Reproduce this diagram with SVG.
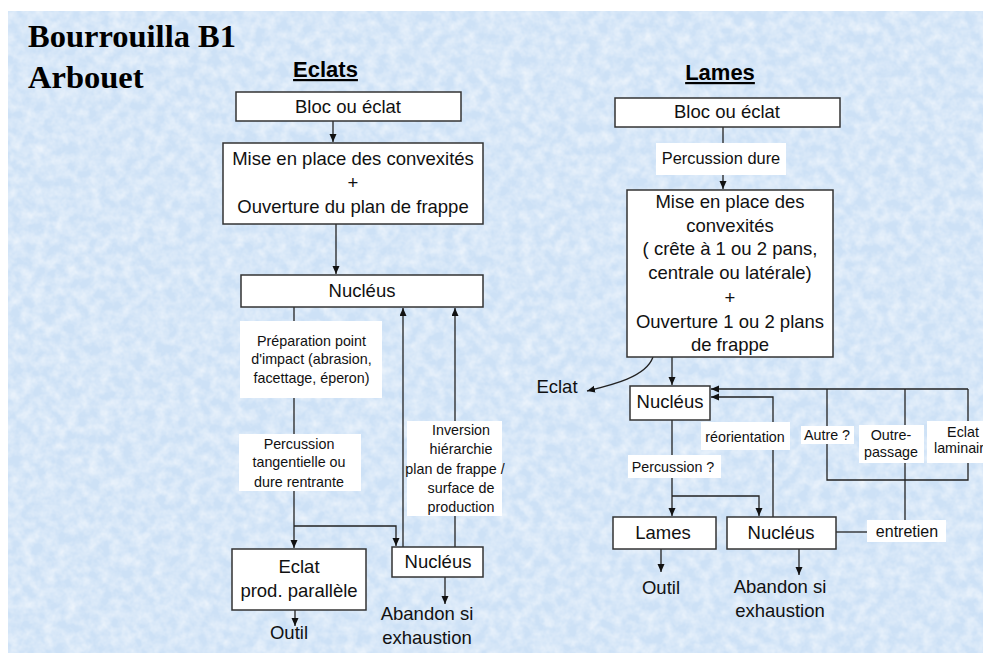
<svg xmlns="http://www.w3.org/2000/svg" width="983" height="653" viewBox="0 0 983 653">
<style>
.box{fill:#fff;stroke:#333;stroke-width:1.5}
.lbl{fill:#fff;stroke:none}
.ln{fill:none;stroke:#222;stroke-width:1.3}
.t{font-family:"Liberation Sans",Arial,sans-serif;fill:#111;text-anchor:middle}
.big{font-size:18.5px}
.sm{font-size:14.3px}
.hd{font-family:"Liberation Sans",Arial,sans-serif;font-weight:bold;font-size:22px;fill:#000;text-anchor:middle;text-decoration:underline}
.title{font-family:"Liberation Serif","Times New Roman",serif;font-weight:bold;font-size:32.5px;fill:#000}
</style>
<defs>
<marker id="ar" markerUnits="userSpaceOnUse" markerWidth="9" markerHeight="8" refX="8" refY="3.5" orient="auto">
<path d="M0,0 L8,3.5 L0,7 z" fill="#111"/>
</marker>
<filter id="tex" x="0" y="0" width="100%" height="100%">
<feTurbulence type="fractalNoise" baseFrequency="0.09" numOctaves="3" seed="7"/>
<feColorMatrix type="matrix" values="0 0 0 0 1  0 0 0 0 1  0 0 0 0 1  1.0 0 0 0 -0.3"/>
</filter>
</defs>
<rect x="0" y="0" width="983" height="653" fill="#fff"/>
<rect x="8" y="11" width="975" height="642" fill="#cde1f6"/>
<rect x="8" y="11" width="975" height="642" fill="#fff" filter="url(#tex)"/>

<text class="title" x="28" y="47">Bourrouilla B1</text>
<text class="title" x="28" y="88">Arbouet</text>
<text class="hd" x="325.5" y="77">Eclats</text>
<text class="hd" x="720" y="80">Lames</text>

<g id="connectors">
<line class="ln" x1="333" y1="121" x2="333" y2="142" marker-end="url(#ar)"/>
<line class="ln" x1="336" y1="224" x2="336" y2="274" marker-end="url(#ar)"/>
<line class="ln" x1="294" y1="307" x2="294" y2="548" marker-end="url(#ar)"/>
<path class="ln" d="M294,526 H396 V546" marker-end="url(#ar)"/>
<line class="ln" x1="403" y1="547" x2="403" y2="308" marker-end="url(#ar)"/>
<line class="ln" x1="455" y1="547" x2="455" y2="308" marker-end="url(#ar)"/>
<line class="ln" x1="295" y1="610" x2="295" y2="626" marker-end="url(#ar)"/>
<line class="ln" x1="445" y1="577" x2="445" y2="604" marker-end="url(#ar)"/>
<line class="ln" x1="723" y1="127" x2="723" y2="189" marker-end="url(#ar)"/>
<path class="ln" d="M653,357 C646,377 612,385 587,391" marker-end="url(#ar)"/>
<line class="ln" x1="672" y1="357" x2="672" y2="385" marker-end="url(#ar)"/>
<path class="ln" d="M968,389 H711" marker-end="url(#ar)"/>
<path class="ln" d="M968,389 V480 H827 V389"/>
<line class="ln" x1="905" y1="389" x2="905" y2="520"/>
<path class="ln" d="M773,517 V397 H711" marker-end="url(#ar)"/>
<line class="ln" x1="672" y1="420" x2="672" y2="516" marker-end="url(#ar)"/>
<path class="ln" d="M672,496 H759 V516" marker-end="url(#ar)"/>
<line class="ln" x1="836" y1="532" x2="867" y2="532"/>
<line class="ln" x1="661" y1="549" x2="661" y2="572" marker-end="url(#ar)"/>
<line class="ln" x1="799" y1="549" x2="799" y2="575" marker-end="url(#ar)"/>
</g>

<g id="l-bloc">
<rect class="box" x="236" y="92" width="225" height="29"/>
<text class="t big" x="348" y="113">Bloc ou éclat</text>
</g>
<g id="l-mise">
<rect class="box" x="223" y="143" width="260" height="81"/>
<text class="t big" x="353" y="165">Mise en place des convexités</text>
<text class="t big" x="353" y="189">+</text>
<text class="t big" x="353" y="213">Ouverture du plan de frappe</text>
</g>
<g id="l-nucleus">
<rect class="box" x="241" y="275" width="242" height="32"/>
<text class="t big" x="362" y="297">Nucléus</text>
</g>
<g id="l-prep">
<rect class="lbl" x="240" y="321" width="142" height="77"/>
<text class="t sm" x="311.5" y="346">Préparation point</text>
<text class="t sm" x="311.5" y="364">d'impact (abrasion,</text>
<text class="t sm" x="311.5" y="383">facettage, éperon)</text>
</g>
<g id="l-perc">
<rect class="lbl" x="239" y="434" width="122" height="57"/>
<text class="t sm" x="299" y="449">Percussion</text>
<text class="t sm" x="299" y="467">tangentielle ou</text>
<text class="t sm" x="299" y="487">dure rentrante</text>
</g>
<g id="l-inv">
<rect class="lbl" x="407" y="421" width="95" height="95"/>
<text class="t sm" x="461" y="435">Inversion</text>
<text class="t sm" x="461" y="454">hiérarchie</text>
<text class="t sm" x="455" y="474">plan de frappe /</text>
<text class="t sm" x="461" y="493">surface de</text>
<text class="t sm" x="461" y="512">production</text>
</g>
<g id="l-eclat">
<rect class="box" x="232" y="549" width="134" height="61"/>
<text class="t big" x="299" y="573">Eclat</text>
<text class="t big" x="299" y="597">prod. parallèle</text>
</g>
<g id="l-nucleus2">
<rect class="box" x="392" y="547" width="91" height="30"/>
<text class="t big" x="438" y="568">Nucléus</text>
</g>
<g id="l-outil"><text class="t big" x="289" y="639">Outil</text></g>
<g id="l-abandon">
<text class="t big" x="427" y="620">Abandon si</text>
<text class="t big" x="427" y="644">exhaustion</text>
</g>

<g id="r-bloc">
<rect class="box" x="615" y="98" width="225" height="29"/>
<text class="t big" x="727" y="118">Bloc ou éclat</text>
</g>
<g id="r-percdure">
<rect class="lbl" x="656" y="143" width="130" height="32"/>
<text class="t" style="font-size:16.4px" x="721" y="164">Percussion dure</text>
</g>
<g id="r-mise">
<rect class="box" x="627" y="190" width="206" height="167"/>
<text class="t big" x="730" y="208">Mise en place des</text>
<text class="t big" x="730" y="232">convexités</text>
<text class="t big" x="730" y="255">( crête à 1 ou 2 pans,</text>
<text class="t big" x="730" y="279">centrale ou latérale)</text>
<text class="t big" x="730" y="304">+</text>
<text class="t big" x="730" y="328">Ouverture 1 ou 2 plans</text>
<text class="t big" x="730" y="351">de frappe</text>
</g>
<g id="r-eclat"><text class="t big" x="557" y="393">Eclat</text></g>
<g id="r-nucleus">
<rect class="box" x="630" y="386" width="80" height="34"/>
<text class="t big" x="670" y="408">Nucléus</text>
</g>
<g id="r-reor">
<rect class="lbl" x="701" y="422" width="89" height="28"/>
<text class="t sm" x="745" y="442">réorientation</text>
</g>
<g id="r-percq">
<rect class="lbl" x="628" y="455" width="93" height="23"/>
<text class="t sm" x="673" y="472">Percussion ?</text>
</g>
<g id="r-autre">
<rect class="lbl" x="801" y="426" width="53" height="18"/>
<text class="t sm" x="827" y="440">Autre ?</text>
</g>
<g id="r-outre">
<rect class="lbl" x="859" y="425" width="65" height="38"/>
<text class="t sm" x="891" y="440">Outre-</text>
<text class="t sm" x="891" y="457">passage</text>
</g>
<g id="r-lamin">
<rect class="lbl" x="927" y="421" width="60" height="42"/>
<text class="t sm" x="963" y="437">Eclat</text>
<text class="t sm" x="963" y="453">laminaire</text>
</g>
<g id="r-lames">
<rect class="box" x="613" y="517" width="103" height="32"/>
<text class="t big" x="663" y="539">Lames</text>
</g>
<g id="r-nucleus2">
<rect class="box" x="727" y="517" width="109" height="32"/>
<text class="t big" x="781" y="539">Nucléus</text>
</g>
<g id="r-entretien">
<rect class="lbl" x="867" y="520" width="79" height="22"/>
<text class="t" style="font-size:16px" x="907" y="537">entretien</text>
</g>
<g id="r-outil"><text class="t big" x="661" y="594">Outil</text></g>
<g id="r-abandon">
<text class="t big" x="780" y="593">Abandon si</text>
<text class="t big" x="780" y="617">exhaustion</text>
</g>
</svg>
